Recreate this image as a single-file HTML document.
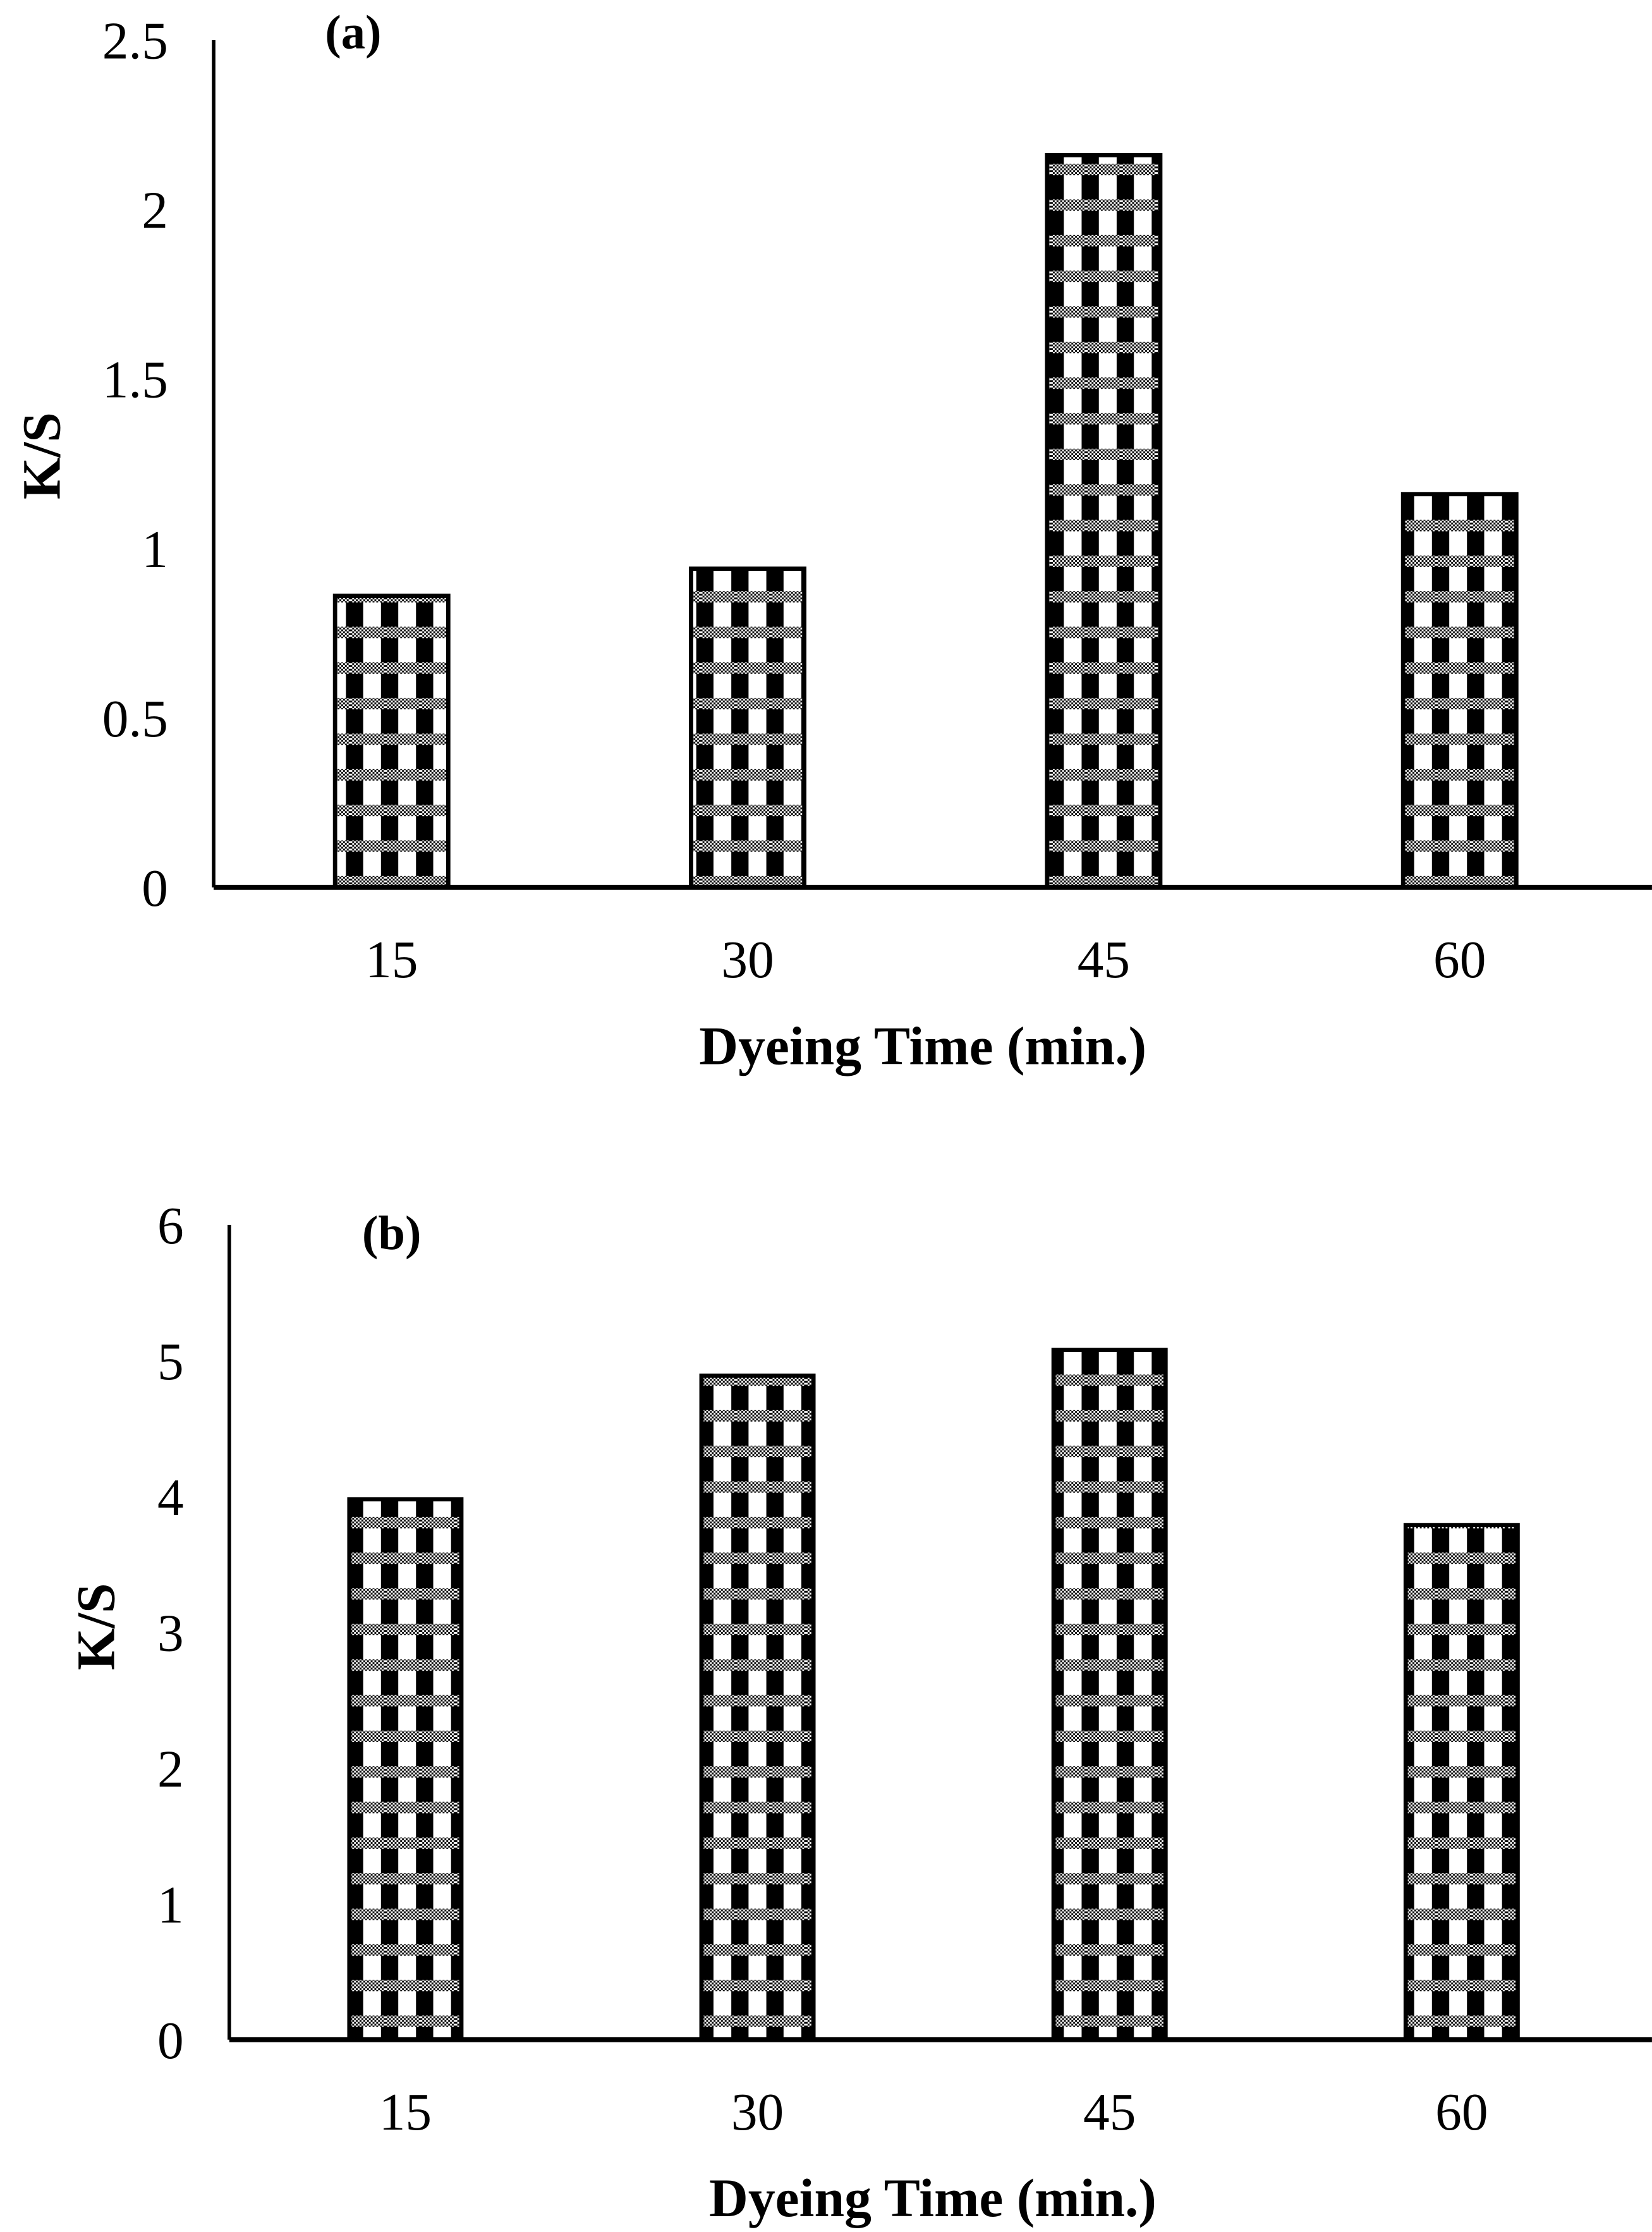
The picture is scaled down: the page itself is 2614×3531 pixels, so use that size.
<!DOCTYPE html>
<html><head><meta charset="utf-8"><style>
html,body{margin:0;padding:0;background:#fff}
svg{display:block}
text{font-family:"Liberation Serif",serif;fill:#000}
</style></head><body>
<svg id="fig" width="2614" height="3531" viewBox="0 0 1160 1567" xmlns="http://www.w3.org/2000/svg">
<defs>
<pattern id="chk" width="2.6" height="2.6" patternUnits="userSpaceOnUse">
<rect width="2.6" height="2.6" fill="#000"/><rect width="1.3" height="1.3" fill="#fff"/><rect x="1.3" y="1.3" width="1.3" height="1.3" fill="#fff"/>
</pattern>
<pattern id="weave" width="24.6" height="25" patternUnits="userSpaceOnUse">
<rect width="24.6" height="25" fill="#000"/>
<rect x="9" y="0" width="12.5" height="25" fill="#fff"/>
<rect x="0" y="15" width="24.6" height="8" fill="url(#chk)"/>
</pattern>
</defs>
<g id="chartA"></g>
<g id="chartB"></g>
</svg>
<script>
const categories = ["15","30","45","60"];
const valuesA = [0.86, 0.94, 2.16, 1.16];
const valuesB = [3.98, 4.89, 5.08, 3.79];
const ticksA = ["0","0.5","1","1.5","2","2.5"];
const ticksB = ["0","1","2","3","4","5","6"];
const NS = "http://www.w3.org/2000/svg";
function mk(parent, tag, attrs, txt){
  const e = document.createElementNS(NS, tag);
  for (const k in attrs) e.setAttribute(k, attrs[k]);
  if (txt !== undefined) e.textContent = txt;
  parent.appendChild(e);
  return e;
}
function drawChart(g, cfg, values, ticks){
  const yMax = parseFloat(ticks[ticks.length-1]);
  const y = v => cfg.y0 - (v / yMax) * (cfg.y0 - cfg.yTop);
  const band = (cfg.xR - cfg.x0) / categories.length;
  const x = i => cfg.x0 + band * (i + 0.5);
  const bw = band * 0.318;
  ticks.forEach(t => {
    const tl = mk(g, "text", {x: cfg.x0 - 32, y: y(parseFloat(t)) + 13, "text-anchor": "end", "font-size": 37}, t);
    
    
  });
  values.forEach((v, i) => {
    const r = mk(g, "rect", {x: x(i) - bw/2, y: y(v), width: bw, height: y(0) - y(v), fill: "url(#weave)", stroke: "#000", "stroke-width": 3});
    
    
    const c = mk(g, "text", {x: x(i), y: cfg.y0 + 63, "text-anchor": "middle", "font-size": 37}, categories[i]);
    
    
  });
  const ya = mk(g, "line", {x1: cfg.x0, y1: cfg.yTop, x2: cfg.x0, y2: cfg.y0, stroke: "#000", "stroke-width": 2.5});
  
  
  const xa = mk(g, "line", {x1: cfg.x0, y1: cfg.y0, x2: 1160, y2: cfg.y0, stroke: "#000", "stroke-width": 3.5});
  
  
  const xt = mk(g, "text", {x: cfg.xTitleX, y: cfg.y0 + 124, "text-anchor": "middle", "font-size": 38, "font-weight": "bold"}, "Dyeing Time (min.)");
  
  
  const yt = mk(g, "text", {x: 0, y: 0, "text-anchor": "middle", "font-size": 38, "font-weight": "bold", transform: "translate(" + cfg.yTitleX + "," + cfg.yTitleY + ") rotate(-90)"}, "K/S");
  
  
  const pl = mk(g, "text", {x: cfg.panelX, y: cfg.panelY, "text-anchor": "middle", "font-size": 34, "font-weight": "bold"}, cfg.panel);
  
  
}
drawChart(document.getElementById("chartA"),
  {x0:150, xR:1150, y0:623, yTop:28, xTitleX:648, yTitleX:42, yTitleY:320, panel:"(a)", panelX:248, panelY:34},
  valuesA, ticksA);
drawChart(document.getElementById("chartB"),
  {x0:161, xR:1150, y0:1432, yTop:860, xTitleX:655, yTitleX:80, yTitleY:1142, panel:"(b)", panelX:275, panelY:877},
  valuesB, ticksB);
</script>
</body></html>
